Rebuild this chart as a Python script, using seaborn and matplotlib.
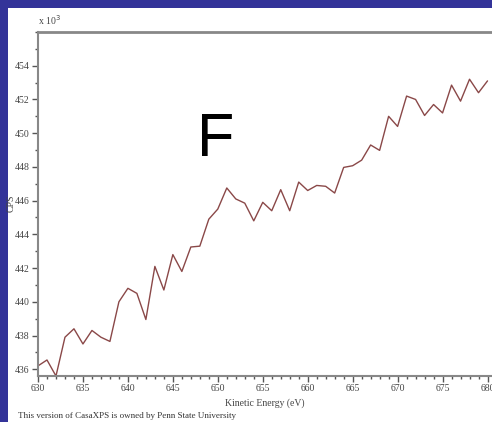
import numpy as np
import pandas as pd
import seaborn as sns
import matplotlib.pyplot as plt
from matplotlib.patches import Rectangle
from matplotlib.ticker import MultipleLocator

# Spectrum values (CPS in thousands)
energy = list(range(630, 681))
cps = [436.2, 436.55, 435.6, 437.9, 438.4, 437.5, 438.3, 437.9, 437.65, 440.0,
       440.8, 440.5, 438.95, 442.1, 440.7, 442.8, 441.8, 443.25, 443.3, 444.9,
       445.5, 446.75, 446.1, 445.85, 444.8, 445.9, 445.4, 446.65, 445.4, 447.1,
       446.6, 446.9, 446.85, 446.45, 447.97, 448.07, 448.4, 449.3, 448.98, 451.0,
       450.4, 452.2, 452.0, 451.05, 451.7, 451.2, 452.85, 451.9, 453.2, 452.4,
       453.1]
y_ticks = list(range(436, 455, 2))
x_ticks = list(range(630, 681, 5))

df = pd.DataFrame({'energy': energy, 'cps': cps})

sns.set_theme(style='white')
plt.rcParams['font.family'] = ['Liberation Serif', 'DejaVu Serif']

fig = plt.figure(figsize=(4.92, 4.22), dpi=100)
fig.patch.set_facecolor('#333399')
# white panel inside the blue slide border
fig.patches.append(Rectangle((8 / 492, 0), 1, 1 - 8 / 422, transform=fig.transFigure,
                             facecolor='white', edgecolor='none', zorder=-10))

ax = fig.add_axes([38 / 492, 46 / 422, 1 - 38 / 492, (376 - 32) / 422])
ax.set_facecolor('white')

sns.lineplot(data=df, x='energy', y='cps', ax=ax, color='#8a4848', linewidth=1.0)

ax.set_xlim(630, 680.5)
ax.set_ylim(435.6, 456.0)
ax.set_xticks(x_ticks)
ax.set_yticks(y_ticks)
ax.xaxis.set_minor_locator(MultipleLocator(1))
ax.yaxis.set_minor_locator(MultipleLocator(1))
ax.tick_params(axis='both', which='major', direction='out', length=4, width=1,
               color='#555555', labelsize=7, labelcolor='#444444', pad=2,
               bottom=True, left=True)
ax.tick_params(axis='both', which='minor', direction='out', length=2.5, width=1,
               color='#555555', bottom=True, left=True)

for side in ['left', 'bottom', 'top']:
    ax.spines[side].set_color('#888888')
    ax.spines[side].set_linewidth(1.5)
ax.spines['top'].set_linewidth(2)
ax.spines['right'].set_visible(False)

ax.set_xlabel('Kinetic Energy (eV)', fontsize=7, color='#444444')
ax.set_ylabel('CPS', fontsize=7, color='#444444')
ax.xaxis.set_label_coords((265 - 38) / 454, -22 / 344)
ax.yaxis.set_label_coords(-22 / 454, (376 - 203) / 344)

fig.text(38 / 492, 1 - 20 / 422, r'x 10$^3$', fontsize=7, color='#444444',
         ha='left', va='center')
fig.text(18 / 492, 1 - 416 / 422, 'This version of CasaXPS is owned by Penn State University',
         fontsize=6.5, color='#333333', ha='left', va='center')
fig.text(216 / 492, 1 - 140 / 422, 'F', fontsize=44, color='black',
         family='Liberation Sans', ha='center', va='center')

fig.savefig('out.png', dpi=100, facecolor=fig.get_facecolor())
